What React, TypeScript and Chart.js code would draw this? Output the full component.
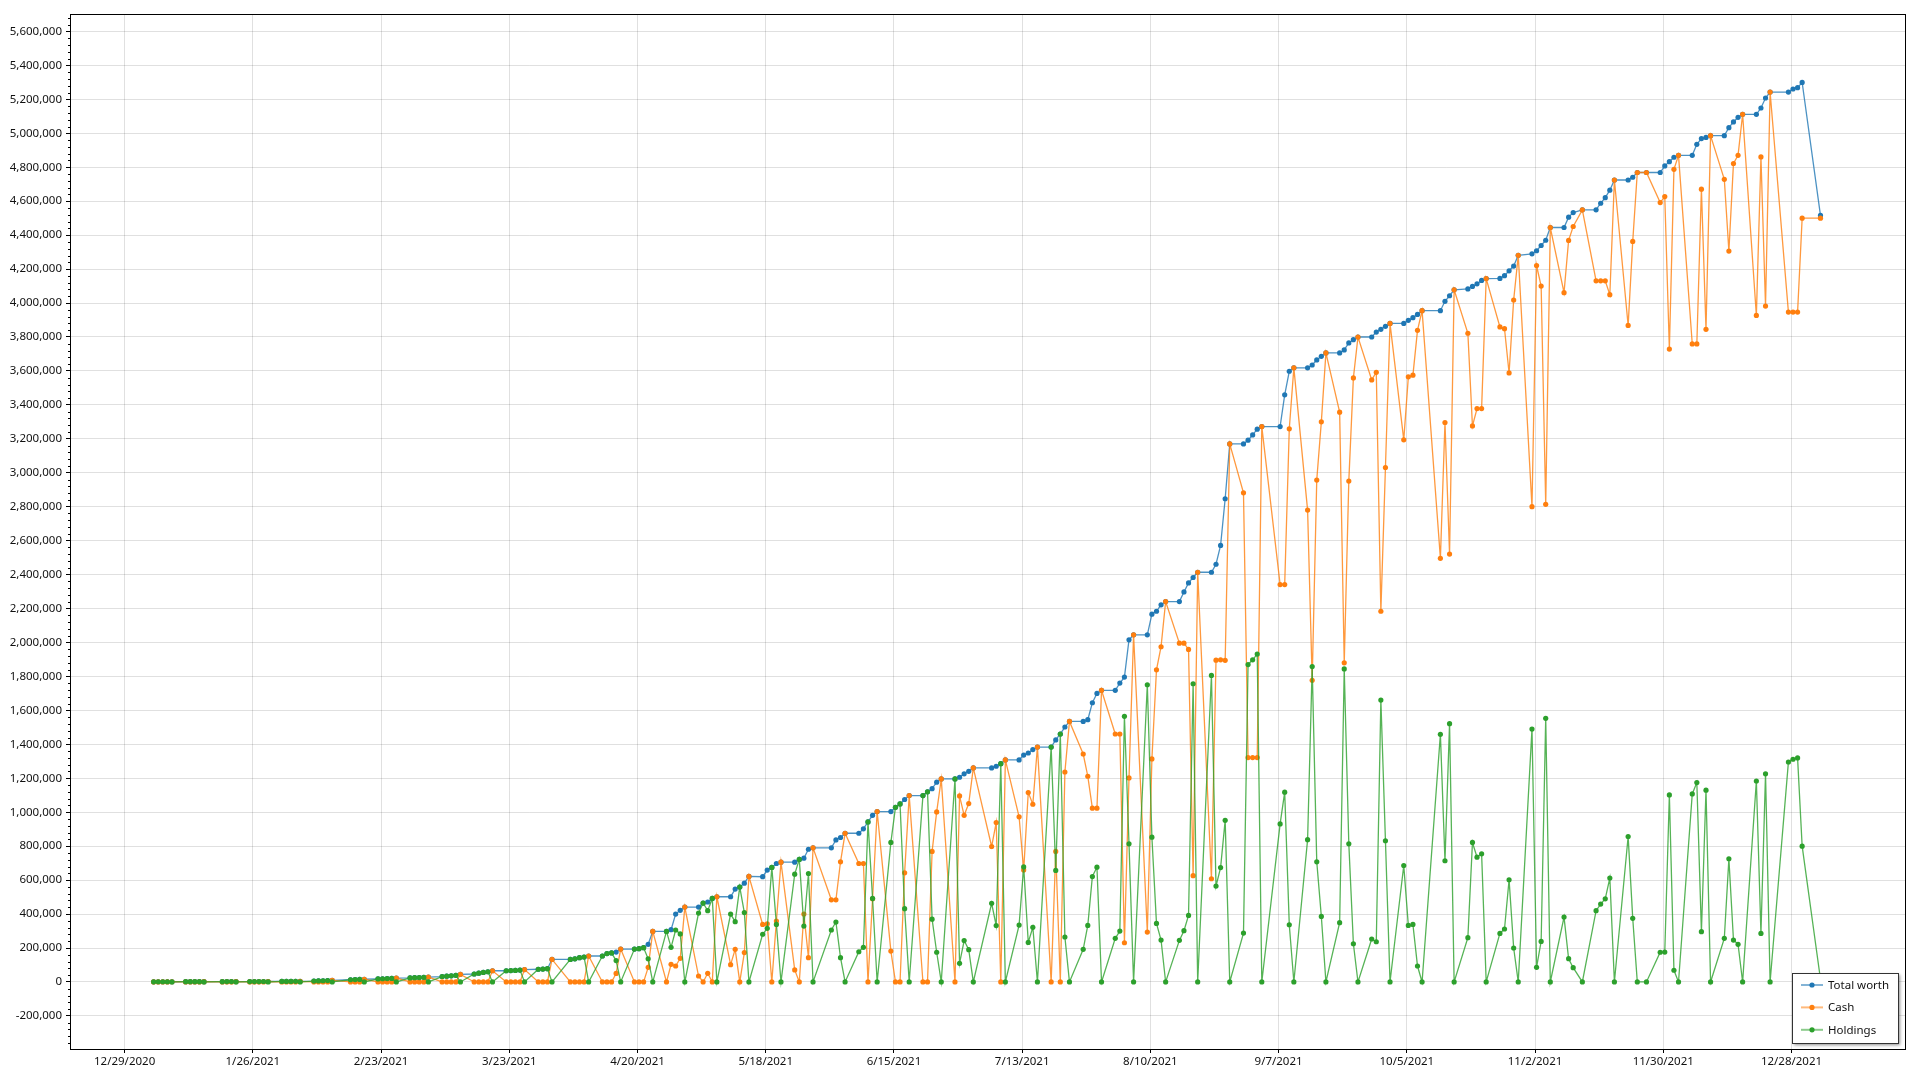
import React, { useEffect, useRef } from 'react';
import { Chart, registerables } from 'chart.js';

Chart.register(...registerables);

// ---------------- DATA ----------------
const SERIES_NAMES = ['Total worth', 'Cash', 'Holdings'];
const SERIES_COLORS = ['#1f77b4', '#ff7f0e', '#2ca02c'];

// trading days of the record (weekdays from FIRST_DAY to LAST_DAY, minus the days absent from the data)
const FIRST_DAY = '2021-01-04';
const LAST_DAY = '2022-01-03';
const CLOSED_DAYS = [
  '2021-01-18', '2021-02-15', '2021-04-02', '2021-05-31', '2021-07-05', '2021-09-06',
  '2021-10-11', '2021-11-11', '2021-11-25', '2021-12-24', '2021-12-31',
];

const X_TICK_DATES = [
  '2020-12-29', '2021-01-26', '2021-02-23', '2021-03-23', '2021-04-20', '2021-05-18', '2021-06-15',
  '2021-07-13', '2021-08-10', '2021-09-07', '2021-10-05', '2021-11-02', '2021-11-30', '2021-12-28',
];
const X_MIN = '2020-12-17T07:00:00Z';
const X_MAX = '2022-01-21T19:00:00Z';

const Y_MIN = -395000;
const Y_MAX = 5697000;
const Y_TICK_FIRST = -200000;
const Y_TICK_LAST = 5600000;
const Y_TICK_STEP = 200000;
const Y_MINOR_STEP = 40000;

// values in thousands, one line per week
const TOTAL_K = [
  1.0, 1.1, 1.2, 1.2, 1.3,
  1.4, 1.5, 1.6, 1.7, 1.8,
  1.9, 2.0, 2.1, 2.2,
  2.3, 2.4, 2.5, 2.6, 2.7,
  2.9, 3.1, 3.3, 3.5, 3.8,
  5, 6, 7, 8, 9,
  13, 14, 15, 16,
  18, 19, 20, 21, 23,
  24, 25, 26, 27, 29,
  32, 34, 36, 39, 45,
  47, 52, 56, 60, 66,
  66, 67, 68, 70, 73,
  75, 76, 78, 133,
  133, 136, 143, 147, 153,
  153, 167, 171, 176, 194,
  194, 196, 202, 222, 298,
  298, 308, 400, 422, 441,
  441, 465, 471, 492, 502,
  502, 547, 559, 582, 622,
  620, 659, 675, 698, 706,
  706, 722, 729, 782, 790,
  790, 837, 851, 876,
  876, 902, 943, 982, 1004,
  1004, 1029, 1049, 1075, 1098,
  1098, 1120, 1139, 1177, 1196,
  1196, 1206, 1226, 1241, 1261,
  1261, 1271, 1286, 1308,
  1308, 1337, 1349, 1369, 1384,
  1384, 1426, 1461, 1502, 1535,
  1535, 1545, 1645, 1700, 1718,
  1718, 1761, 1796, 2016, 2045,
  2045, 2167, 2184, 2222, 2241,
  2241, 2298, 2351, 2383, 2414,
  2414, 2461, 2572, 2847, 3170,
  3170, 3192, 3223, 3257, 3272,
  3272, 3459, 3598, 3618,
  3618, 3635, 3665, 3686, 3706,
  3706, 3724, 3765, 3784, 3800,
  3800, 3829, 3845, 3863, 3880,
  3880, 3898, 3914, 3933, 3955,
  3955, 4010, 4043, 4078,
  4083, 4098, 4113, 4133, 4144,
  4145, 4161, 4190, 4218, 4281,
  4290, 4308, 4339, 4370, 4445,
  4445, 4506, 4533, 4549,
  4549, 4588, 4621, 4665, 4725,
  4725, 4741, 4769, 4769,
  4769, 4808, 4833, 4859, 4870,
  4870, 4935, 4969, 4976, 4986,
  4986, 5033, 5067, 5094, 5112,
  5112, 5149, 5208, 5243,
  5243, 5261, 5269, 5300,
  4516,
];

const CASH_K = [
  0, 0, 0, 0, 1.3,
  0, 0, 0, 0, 1.8,
  0, 0, 0, 2.2,
  0, 0, 0, 0, 2.7,
  0, 0, 0, 0, 3.8,
  0, 0, 0, 0, 9,
  0, 0, 0, 16,
  0, 0, 0, 0, 23,
  0, 0, 0, 0, 29,
  0, 0, 0, 0, 45,
  0, 0, 0, 0, 66,
  0, 0, 0, 0, 73,
  0, 0, 0, 133,
  0, 0, 0, 0, 153,
  0, 0, 0, 50, 194,
  0, 0, 0, 86, 298,
  0, 104, 94, 139, 441,
  35, 0, 51, 0, 502,
  102, 192, 0, 173, 622,
  339, 343, 0, 359, 706,
  71, 0, 400, 143, 790,
  484, 484, 708, 876,
  698, 698, 0, 490, 1004,
  182, 0, 0, 643, 1098,
  0, 0, 769, 1002, 1196,
  0, 1096, 982, 1051, 1261,
  798, 939, 0, 1308,
  973, 659, 1116, 1047, 1384,
  0, 769, 0, 1237, 1535,
  1343, 1212, 1024, 1024, 1718,
  1461, 1461, 231, 1202, 2045,
  294, 1314, 1839, 1975, 2241,
  1996, 1996, 1959, 626, 2414,
  608, 1896, 1898, 1895, 3170,
  2882, 1322, 1322, 1322, 3272,
  2341, 2341, 3259, 3618,
  2780, 1777, 2957, 3300, 3706,
  3357, 1880, 2951, 3559, 3800,
  3547, 3592, 2184, 3031, 3880,
  3194, 3565, 3575, 3839, 3955,
  2496, 3296, 2521, 4078,
  3822, 3276, 3378, 3378, 4144,
  3859, 3849, 3588, 4018, 4281,
  2800, 4221, 4100, 2814, 4445,
  4061, 4369, 4451, 4549,
  4131, 4131, 4131, 4049, 4725,
  3868, 4363, 4769, 4769,
  4592, 4627, 3729, 4788, 4870,
  3759, 3759, 4671, 3845, 4986,
  4729, 4306, 4822, 4870, 5112,
  3927, 4861, 3982, 5243,
  3947, 3947, 3947, 4500,
  4500,
];

const HOLDINGS_K = [
  1.0, 1.1, 1.2, 1.2, 0,
  1.4, 1.5, 1.6, 1.7, 0,
  1.9, 2.0, 2.1, 0,
  2.3, 2.4, 2.5, 2.6, 0,
  2.9, 3.1, 3.3, 3.5, 0,
  5, 6, 7, 8, 0,
  13, 14, 15, 0,
  18, 19, 20, 21, 0,
  24, 25, 26, 27, 0,
  32, 34, 36, 39, 0,
  47, 52, 56, 60, 0,
  66, 67, 68, 70, 0,
  75, 76, 78, 0,
  133, 136, 143, 147, 0,
  153, 167, 171, 126, 0,
  194, 196, 202, 136, 0,
  298, 204, 306, 283, 0,
  406, 465, 420, 492, 0,
  400, 355, 559, 409, 0,
  281, 316, 675, 339, 0,
  635, 722, 329, 639, 0,
  306, 353, 143, 0,
  178, 204, 943, 492, 0,
  822, 1029, 1049, 432, 0,
  1098, 1120, 370, 175, 0,
  1196, 110, 244, 190, 0,
  463, 332, 1286, 0,
  335, 678, 233, 322, 0,
  1384, 657, 1461, 265, 0,
  192, 333, 621, 676, 0,
  257, 300, 1565, 814, 0,
  1751, 853, 345, 247, 0,
  245, 302, 392, 1757, 0,
  1806, 565, 674, 952, 0,
  288, 1870, 1898, 1932, 0,
  931, 1118, 337, 0,
  838, 1858, 708, 386, 0,
  349, 1844, 814, 225, 0,
  253, 237, 1661, 832, 0,
  686, 333, 339, 94, 0,
  1459, 714, 1522, 0,
  261, 822, 735, 755, 0,
  286, 312, 602, 200, 0,
  1490, 86, 239, 1553, 0,
  382, 137, 84, 0,
  420, 459, 490, 612, 0,
  857, 375, 0, 0,
  175, 176, 1102, 69, 0,
  1108, 1175, 296, 1130, 0,
  257, 726, 247, 222, 0,
  1184, 286, 1226, 0,
  1296, 1312, 1320, 800,
  16,
];

// ---------------- HELPERS ----------------
const DAY_MS = 86400000;
const RECORD_HOUR_MS = 8 * 3600000;

function tradingDays(): number[] {
  const closed = new Set(CLOSED_DAYS);
  const out: number[] = [];
  const end = Date.parse(LAST_DAY + 'T00:00:00Z');
  for (let t = Date.parse(FIRST_DAY + 'T00:00:00Z'); t <= end; t += DAY_MS) {
    const d = new Date(t);
    const wd = d.getUTCDay();
    if (wd === 0 || wd === 6) continue;
    if (closed.has(d.toISOString().slice(0, 10))) continue;
    out.push(t + RECORD_HOUR_MS);
  }
  return out;
}

function fmtDate(ms: number): string {
  const d = new Date(ms);
  return `${d.getUTCMonth() + 1}/${d.getUTCDate()}/${d.getUTCFullYear()}`;
}

const FONT = { family: '"Noto Sans", "Open Sans", sans-serif', size: 11.5 };
const GRID_COLOR = 'rgba(0,0,0,0.12)';

function withAlpha(hex: string, a: number): string {
  const r = parseInt(hex.slice(1, 3), 16);
  const g = parseInt(hex.slice(3, 5), 16);
  const b = parseInt(hex.slice(5, 7), 16);
  return `rgba(${r},${g},${b},${a})`;
}

const decorPlugin = {
  id: 'decor',
  afterDraw(chart: any) {
    const ctx = chart.ctx as CanvasRenderingContext2D;
    const { left, right, top, bottom } = chart.chartArea;
    const ys = chart.scales.y;
    ctx.save();
    // minor ticks on the value axis
    ctx.strokeStyle = '#000';
    ctx.lineWidth = 1;
    ctx.beginPath();
    const start = Math.ceil(Y_MIN / Y_MINOR_STEP) * Y_MINOR_STEP;
    for (let v = start; v <= Y_MAX; v += Y_MINOR_STEP) {
      if (v % Y_TICK_STEP === 0) continue;
      const py = Math.round(ys.getPixelForValue(v)) + 0.5;
      if (py < top || py > bottom) continue;
      ctx.moveTo(left - 3, py);
      ctx.lineTo(left, py);
    }
    ctx.stroke();
    // plot frame
    ctx.strokeRect(Math.round(left) - 0.5, Math.round(top) - 0.5, Math.round(right - left) + 1, Math.round(bottom - top) + 1);

    // legend box (bottom right, inside plot)
    const w = 106;
    const h = 70;
    const x0 = Math.round(right) - 7 - w;
    const y0 = Math.round(bottom) - 6 - h;
    ctx.save();
    ctx.shadowColor = 'rgba(0,0,0,0.45)';
    ctx.shadowBlur = 3;
    ctx.shadowOffsetX = 2;
    ctx.shadowOffsetY = 2;
    ctx.fillStyle = '#fff';
    ctx.fillRect(x0, y0, w, h);
    ctx.restore();
    ctx.strokeStyle = '#333';
    ctx.strokeRect(x0 + 0.5, y0 + 0.5, w, h);
    ctx.font = `${FONT.size}px ${FONT.family}`;
    ctx.textBaseline = 'middle';
    ctx.textAlign = 'left';
    chart.data.datasets.forEach((ds: any, i: number) => {
      const cy = y0 + 12 + i * 22.4;
      const col = SERIES_COLORS[i];
      ctx.strokeStyle = withAlpha(col, 0.55);
      ctx.lineWidth = 2;
      ctx.beginPath();
      ctx.moveTo(x0 + 9, cy);
      ctx.lineTo(x0 + 31, cy);
      ctx.stroke();
      ctx.fillStyle = col;
      ctx.beginPath();
      ctx.arc(x0 + 20, cy, 2.6, 0, Math.PI * 2);
      ctx.fill();
      ctx.fillStyle = '#111';
      ctx.fillText(ds.label, x0 + 36, cy + 0.5);
    });
    ctx.restore();
  },
};

export default function App() {
  const ref = useRef<HTMLCanvasElement | null>(null);

  useEffect(() => {
    const canvas = ref.current;
    if (!canvas) return;
    const days = tradingDays();
    const seriesK = [TOTAL_K, CASH_K, HOLDINGS_K];
    const yTicks: number[] = [];
    for (let v = Y_TICK_FIRST; v <= Y_TICK_LAST; v += Y_TICK_STEP) yTicks.push(v);
    const xTicks = X_TICK_DATES.map((d) => Date.parse(d + 'T00:00:00Z'));

    const datasets = seriesK.map((vals, si) => ({
      label: SERIES_NAMES[si],
      data: days.map((x, i) => ({ x, y: vals[i] * 1000 })),
      borderColor: withAlpha(SERIES_COLORS[si], 0.8),
      backgroundColor: SERIES_COLORS[si],
      pointBackgroundColor: SERIES_COLORS[si],
      pointBorderWidth: 0,
      pointRadius: 2.6,
      pointHoverRadius: 2.6,
      borderWidth: 1.3,
      tension: 0,
      fill: false,
      order: 2 - si,
    }));

    const chart = new Chart(canvas, {
      type: 'line',
      data: { datasets },
      options: {
        animation: false,
        responsive: false,
        events: [],
        layout: { padding: { top: 15, right: 15, left: 0, bottom: 0 } },
        plugins: { legend: { display: false }, tooltip: { enabled: false } },
        scales: {
          x: {
            type: 'linear',
            min: Date.parse(X_MIN),
            max: Date.parse(X_MAX),
            afterBuildTicks: (s: any) => {
              s.ticks = xTicks.map((value) => ({ value }));
            },
            afterFit: (s: any) => {
              s.height = 31;
            },
            ticks: {
              callback: (v: any) => fmtDate(Number(v)),
              font: FONT,
              color: '#111',
              maxRotation: 0,
              autoSkip: false,
              padding: 2,
            },
            grid: { color: GRID_COLOR, tickColor: '#000', tickLength: 4, drawTicks: true },
            border: { display: false },
          },
          y: {
            type: 'linear',
            min: Y_MIN,
            max: Y_MAX,
            afterBuildTicks: (s: any) => {
              s.ticks = yTicks.map((value) => ({ value }));
            },
            afterFit: (s: any) => {
              s.width = 71;
            },
            ticks: {
              callback: (v: any) => Number(v).toLocaleString('en-US'),
              font: FONT,
              color: '#111',
              padding: 4,
            },
            grid: { color: GRID_COLOR, tickColor: '#000', tickLength: 5, drawTicks: true },
            border: { display: false },
          },
        },
      },
      plugins: [decorPlugin],
    } as any);

    return () => chart.destroy();
  }, []);

  return (
    <div style={{ position: 'absolute', left: 0, top: 0, width: 1920, height: 1080, background: '#fff' }}>
      <canvas ref={ref} width={1920} height={1080} style={{ display: 'block', width: 1920, height: 1080 }} />
    </div>
  );
}
